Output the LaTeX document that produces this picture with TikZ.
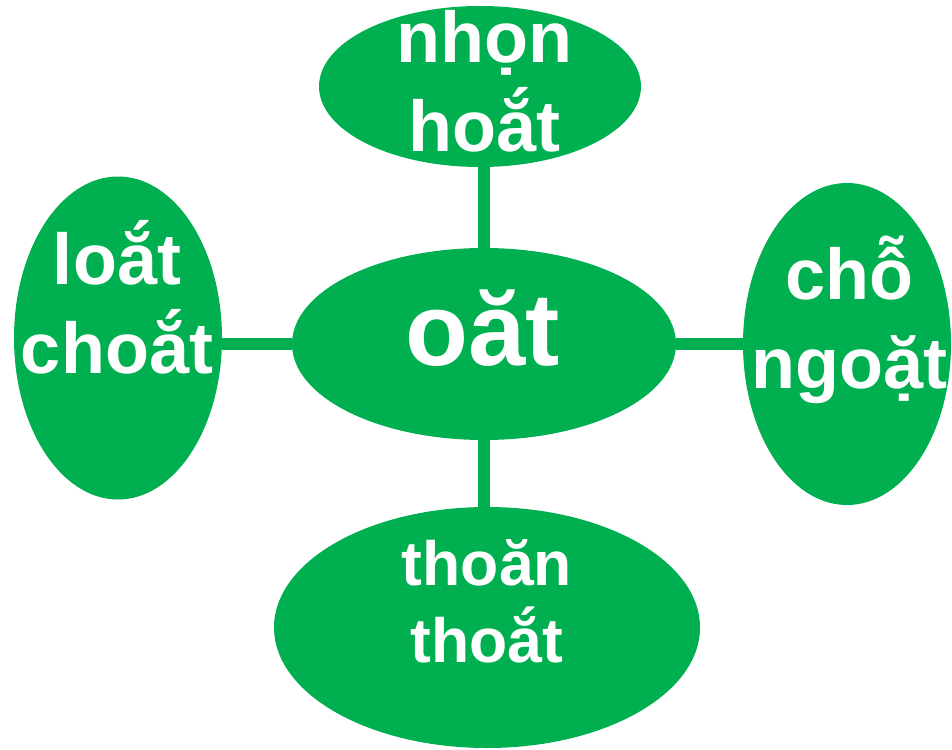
\documentclass[tikz,border=0pt]{standalone}
\usepackage{fontspec}
\setmainfont{Liberation Sans}
\usetikzlibrary{shapes.geometric}
\definecolor{leaf green}{RGB}{0,176,80}
\tikzset{bubble/.style={ellipse, fill=leaf green, inner sep=0pt},
    word/.style={text=white, align=center, inner sep=0pt, font=\bfseries\fontsize{72}{89}\selectfont},
    link/.style={draw=leaf green, line width=12pt}}

\begin{document}
\begin{tikzpicture}[x=1pt, y=-1pt]
    \useasboundingbox (0,0) rectangle (952,749);
    % Definition of ellipses
    \node[bubble, minimum width=384pt, minimum height=192pt] (hub) at (484,344) {};
    \node[bubble, minimum width=322pt, minimum height=161pt] (nhon) at (480,86.5) {};
    \node[bubble, minimum width=208pt, minimum height=323pt] (loat) at (118,338) {};
    \node[bubble, minimum width=208pt, minimum height=322pt] (ngoat) at (847,344) {};
    \node[bubble, minimum width=426pt, minimum height=241pt] (thoan) at (487,627.5) {};
    %
    \draw[link] (hub.north) -- (hub.north |- nhon.south);
    \draw[link] (hub.south) -- (hub.south |- thoan.north);
    \draw[link] (hub.west) -- (hub.west -| loat.east);
    \draw[link] (hub.east) -- (hub.east -| ngoat.west);
    % Texts
    \node[word, font=\bfseries\fontsize{103}{120}\selectfont] (hub text) at (483,328.5) {oăt};
    \node[word] (nhon text) at (484,81) {nhọn\\hoắt};
    \node[word] (loat text) at (117,297) {loắt\\choắt};
    \node[word] (ngoat text) at (849,320) {chỗ\\ngoặt};
    \node[word, font=\bfseries\fontsize{62.5}{77}\selectfont] (thoan text) at (487,601) {thoăn\\thoắt};
\end{tikzpicture}
\end{document}
